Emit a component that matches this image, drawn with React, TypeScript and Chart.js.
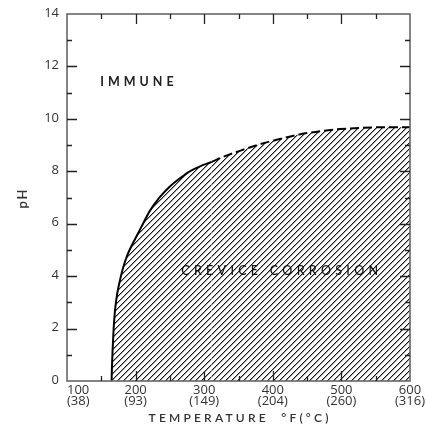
import React, { useEffect, useRef } from "react";
import { Chart, registerables } from "chart.js";

Chart.register(...registerables);

// Boundary curve: temperature (°F) vs pH
const tempF = [165, 165.5, 166.5, 168, 170, 173, 177, 182, 188, 195, 201.6, 211, 221, 235.6, 250, 265, 279, 294, 311, 323, 352, 381, 410, 440, 469, 498, 531, 565, 600];
const phValues = [0, 0.5, 1.2, 2, 2.7, 3.3, 3.82, 4.34, 4.8, 5.2, 5.53, 6.01, 6.5, 7.02, 7.42, 7.74, 8.0, 8.19, 8.36, 8.5, 8.78, 9.03, 9.23, 9.41, 9.53, 9.61, 9.66, 9.68, 9.68];
const dashedFrom = 311; // curve is dashed beyond this temperature

const xTicksF = [100, 200, 300, 400, 500, 600];
const xTicksC = ["(38)", "(93)", "(149)", "(204)", "(260)", "(316)"];
const xMinorTicks = [150, 250, 350, 450, 550];
const yTicks = [0, 2, 4, 6, 8, 10, 12, 14];
const yMinorTicks = [1, 3, 5, 7, 9, 11, 13];

function makePattern(): CanvasPattern | string {
  const c = document.createElement("canvas");
  const s = 6;
  c.width = s;
  c.height = s;
  const g = c.getContext("2d");
  if (!g) return "#888";
  g.fillStyle = "#1a1a1a";
  for (let i = 0; i < s; i++) g.fillRect(i, s - 1 - i, 1, 1);
  g.fillStyle = "rgba(30,30,30,0.45)";
  for (let i = 0; i < s; i++) g.fillRect((i + 1) % s, s - 1 - i, 1, 1);
  const p = g.createPattern(c, "repeat");
  return p || "#888";
}

const decorPlugin = {
  id: "decor",
  afterDatasetsDraw(chart: any) {
    const ctx: CanvasRenderingContext2D = chart.ctx;
    const { left, right, top, bottom } = chart.chartArea;
    const xs = chart.scales.x;
    const ys = chart.scales.y;
    ctx.save();

    // frame
    ctx.strokeStyle = "#666";
    ctx.lineWidth = 1.6;
    ctx.strokeRect(left, top, right - left, bottom - top);

    // inward ticks
    ctx.strokeStyle = "#222";
    ctx.lineWidth = 1.3;
    const major = 10;
    const minor = 5;
    ctx.beginPath();
    const xt = (v: number, len: number) => {
      const px = Math.round(xs.getPixelForValue(v)) + 0.5;
      ctx.moveTo(px, bottom);
      ctx.lineTo(px, bottom - len);
      ctx.moveTo(px, top);
      ctx.lineTo(px, top + len);
    };
    const yt = (v: number, len: number) => {
      const py = Math.round(ys.getPixelForValue(v)) + 0.5;
      ctx.moveTo(left, py);
      ctx.lineTo(left + len, py);
      ctx.moveTo(right, py);
      ctx.lineTo(right - len, py);
    };
    xTicksF.slice(1, -1).forEach((v) => xt(v, major));
    xMinorTicks.forEach((v) => xt(v, minor));
    yTicks.slice(1, -1).forEach((v) => yt(v, major));
    yMinorTicks.forEach((v) => yt(v, minor));
    ctx.stroke();

    // y tick labels
    ctx.fillStyle = "#333";
    ctx.font = "13px 'Open Sans', sans-serif";
    ctx.textAlign = "right";
    ctx.textBaseline = "middle";
    yTicks.forEach((v) => {
      ctx.fillText(String(v), left - 8, ys.getPixelForValue(v) - 1);
    });

    // x tick labels (two lines: °F and °C)
    ctx.textBaseline = "top";
    xTicksF.forEach((v, i) => {
      const px = xs.getPixelForValue(v);
      ctx.textAlign = i === 0 ? "left" : "center";
      ctx.fillText(String(v), px, bottom + 3);
      ctx.fillText(xTicksC[i], px, bottom + 14);
    });

    const spaced = (text: string, x: number, y: number, spacing: number, font: string, color: string) => {
      ctx.font = font;
      ctx.fillStyle = color;
      (ctx as any).letterSpacing = spacing + "px";
      const w = ctx.measureText(text).width - spacing;
      ctx.textAlign = "left";
      ctx.textBaseline = "middle";
      ctx.fillText(text, x - w / 2, y);
      (ctx as any).letterSpacing = "0px";
    };

    // axis titles
    spaced("TEMPERATURE  °F(°C)", (left + right) / 2, 418, 3.2, "600 12px Lato, sans-serif", "#333");
    ctx.save();
    ctx.translate(23, 199);
    ctx.rotate(-Math.PI / 2);
    spaced("pH", 0, 0, 2, "600 13px Lato, sans-serif", "#333");
    ctx.restore();

    // region labels
    spaced("IMMUNE", xs.getPixelForValue(202), ys.getPixelForValue(11.4), 4, "bold 12.5px Lato, sans-serif", "#222");
    spaced("CREVICE CORROSION", xs.getPixelForValue(410), ys.getPixelForValue(4.2), 4.3, "500 12.5px Lato, sans-serif", "#111");

    ctx.restore();
  },
};

export default function App() {
  const ref = useRef<HTMLCanvasElement>(null);
  useEffect(() => {
    if (!ref.current) return;
    const data = tempF.map((t, i) => ({ x: t, y: phValues[i] }));
    const chart = new Chart(ref.current, {
      type: "scatter",
      data: {
        datasets: [
          {
            data,
            showLine: true,
            fill: "origin",
            backgroundColor: makePattern() as any,
            borderColor: "#000",
            borderWidth: 2,
            pointRadius: 0,
            cubicInterpolationMode: "monotone",
            segment: {
              borderDash: (c: any) => (c.p0.parsed.x >= dashedFrom ? [9, 4] : undefined),
            },
          } as any,
        ],
      },
      options: {
        animation: false,
        responsive: false,
        devicePixelRatio: 1,
        layout: { padding: { left: 67, top: 14, right: 16, bottom: 47 } },
        plugins: { legend: { display: false }, tooltip: { enabled: false } },
        scales: {
          x: { type: "linear", min: 100, max: 600, display: false },
          y: { type: "linear", min: 0, max: 14, display: false },
        },
      },
      plugins: [decorPlugin],
    });
    return () => chart.destroy();
  }, []);
  return (
    <div style={{ position: "fixed", left: 0, top: 0, width: 426, height: 428, background: "#fff" }}>
      <canvas ref={ref} width={426} height={428} style={{ width: 426, height: 428, display: "block" }} />
    </div>
  );
}
